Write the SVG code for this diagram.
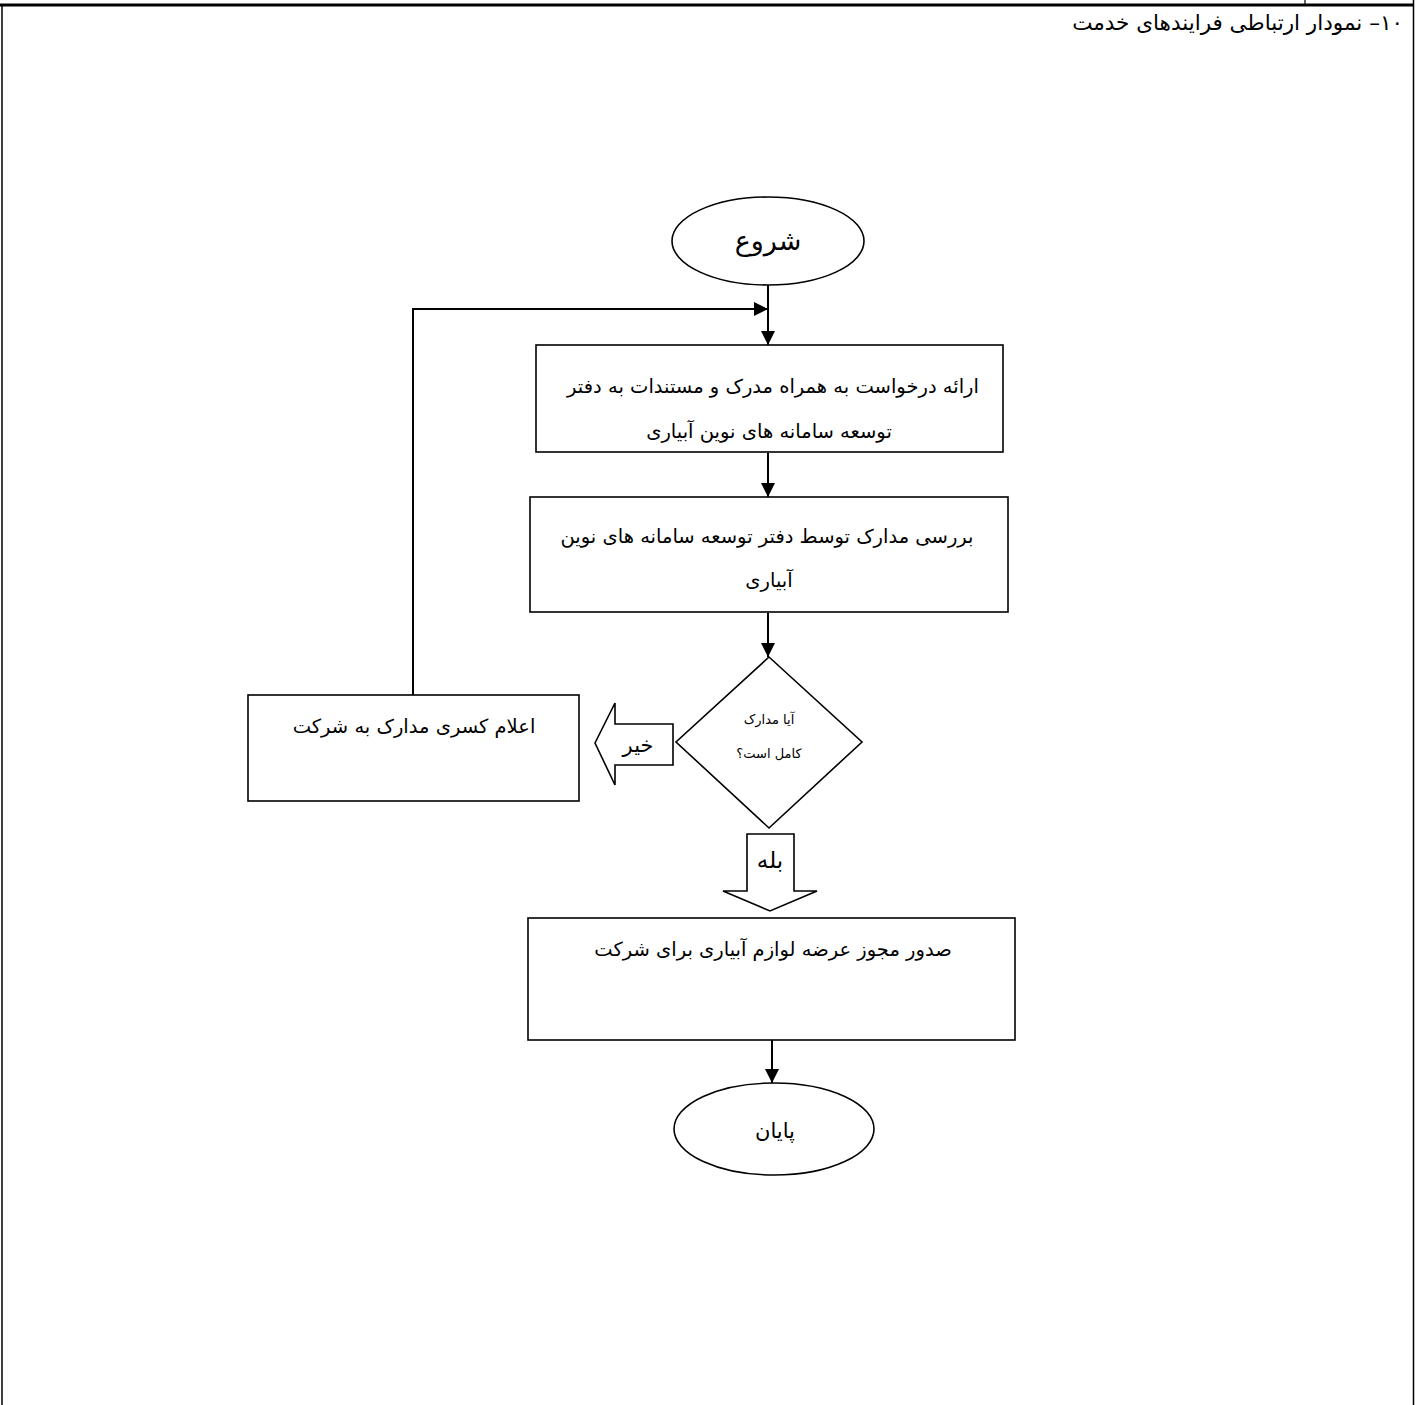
<svg xmlns="http://www.w3.org/2000/svg" width="1423" height="1405" viewBox="0 0 1423 1405">
<style>
.frame{stroke:#000;fill:none}
.shape{fill:#fff;stroke:#000;stroke-width:1.6}
.conn{fill:none;stroke:#000;stroke-width:2}
.t{font-family:"DejaVu Sans",sans-serif;font-size:19.5px;fill:#000;text-anchor:middle;direction:rtl}
.ts{font-size:13px}
.big{font-size:27px}
.mid{font-size:21px}
.yes{font-size:23px}
.title{font-family:"DejaVu Sans",sans-serif;font-size:21.5px;fill:#000;direction:rtl;text-anchor:start}
</style>
<defs>
<marker id="ah" markerUnits="userSpaceOnUse" markerWidth="16" markerHeight="14" refX="14" refY="7" orient="auto">
<path d="M0,0 L14,7 L0,14 Z" fill="#000"/>
</marker>
</defs>
<rect width="1423" height="1405" fill="#fff"/>
<g id="frame">
<line class="frame" x1="0" y1="5" x2="1414" y2="5" stroke-width="3"/>
<line class="frame" x1="2" y1="5" x2="2" y2="1405" stroke-width="1.5"/>
<line class="frame" x1="1413.5" y1="0" x2="1413.5" y2="1405" stroke-width="1.5"/>
<line class="frame" x1="1305" y1="0" x2="1305" y2="5" stroke-width="1.2"/>
<text class="title" x="1403" y="30">۱۰– نمودار ارتباطی فرایندهای خدمت</text>
</g>
<g id="connectors">
<line class="conn" x1="768" y1="285" x2="768" y2="345" marker-end="url(#ah)"/>
<polyline class="conn" points="413,695 413,309 768,309" marker-end="url(#ah)"/>
<line class="conn" x1="768" y1="453" x2="768" y2="497" marker-end="url(#ah)"/>
<line class="conn" x1="768" y1="613" x2="768" y2="657" marker-end="url(#ah)"/>
<line class="conn" x1="772" y1="1040" x2="772" y2="1083" marker-end="url(#ah)"/>
</g>
<g id="start">
<ellipse class="shape" cx="768" cy="241" rx="96" ry="44"/>
<text class="t big" x="768" y="250">شروع</text>
</g>
<g id="submit">
<rect class="shape" x="536" y="345" width="467" height="107"/>
<text class="t" x="773" y="393">ارائه درخواست به همراه مدرک و مستندات به دفتر</text>
<text class="t" x="769" y="438">توسعه سامانه های نوین آبیاری</text>
</g>
<g id="review">
<rect class="shape" x="530" y="497" width="478" height="115"/>
<text class="t" x="767" y="543">بررسی مدارک توسط دفتر توسعه سامانه های نوین</text>
<text class="t" x="769" y="587">آبیاری</text>
</g>
<g id="decision">
<polygon class="shape" points="769,657 862,742 769,828 676,742"/>
<text class="t ts" x="769" y="724">آیا مدارک</text>
<text class="t ts" x="769" y="758">کامل است؟</text>
</g>
<g id="no-arrow">
<polygon class="shape" points="595,743 615,703 615,724 673,724 673,765 615,765 615,785"/>
<text class="t mid" x="638" y="752">خیر</text>
</g>
<g id="notify">
<rect class="shape" x="248" y="695" width="331" height="106"/>
<text class="t" x="414" y="733">اعلام کسری مدارک به شرکت</text>
</g>
<g id="yes-arrow">
<polygon class="shape" points="747,834 794,834 794,891 817,891 770,911 723,891 747,891"/>
<text class="t yes" x="770" y="868">بله</text>
</g>
<g id="issue">
<rect class="shape" x="528" y="918" width="487" height="122"/>
<text class="t" x="773" y="956">صدور مجوز عرضه لوازم آبیاری برای شرکت</text>
</g>
<g id="end">
<ellipse class="shape" cx="774" cy="1129" rx="100" ry="46"/>
<text class="t mid" x="775" y="1138">پایان</text>
</g>
</svg>
